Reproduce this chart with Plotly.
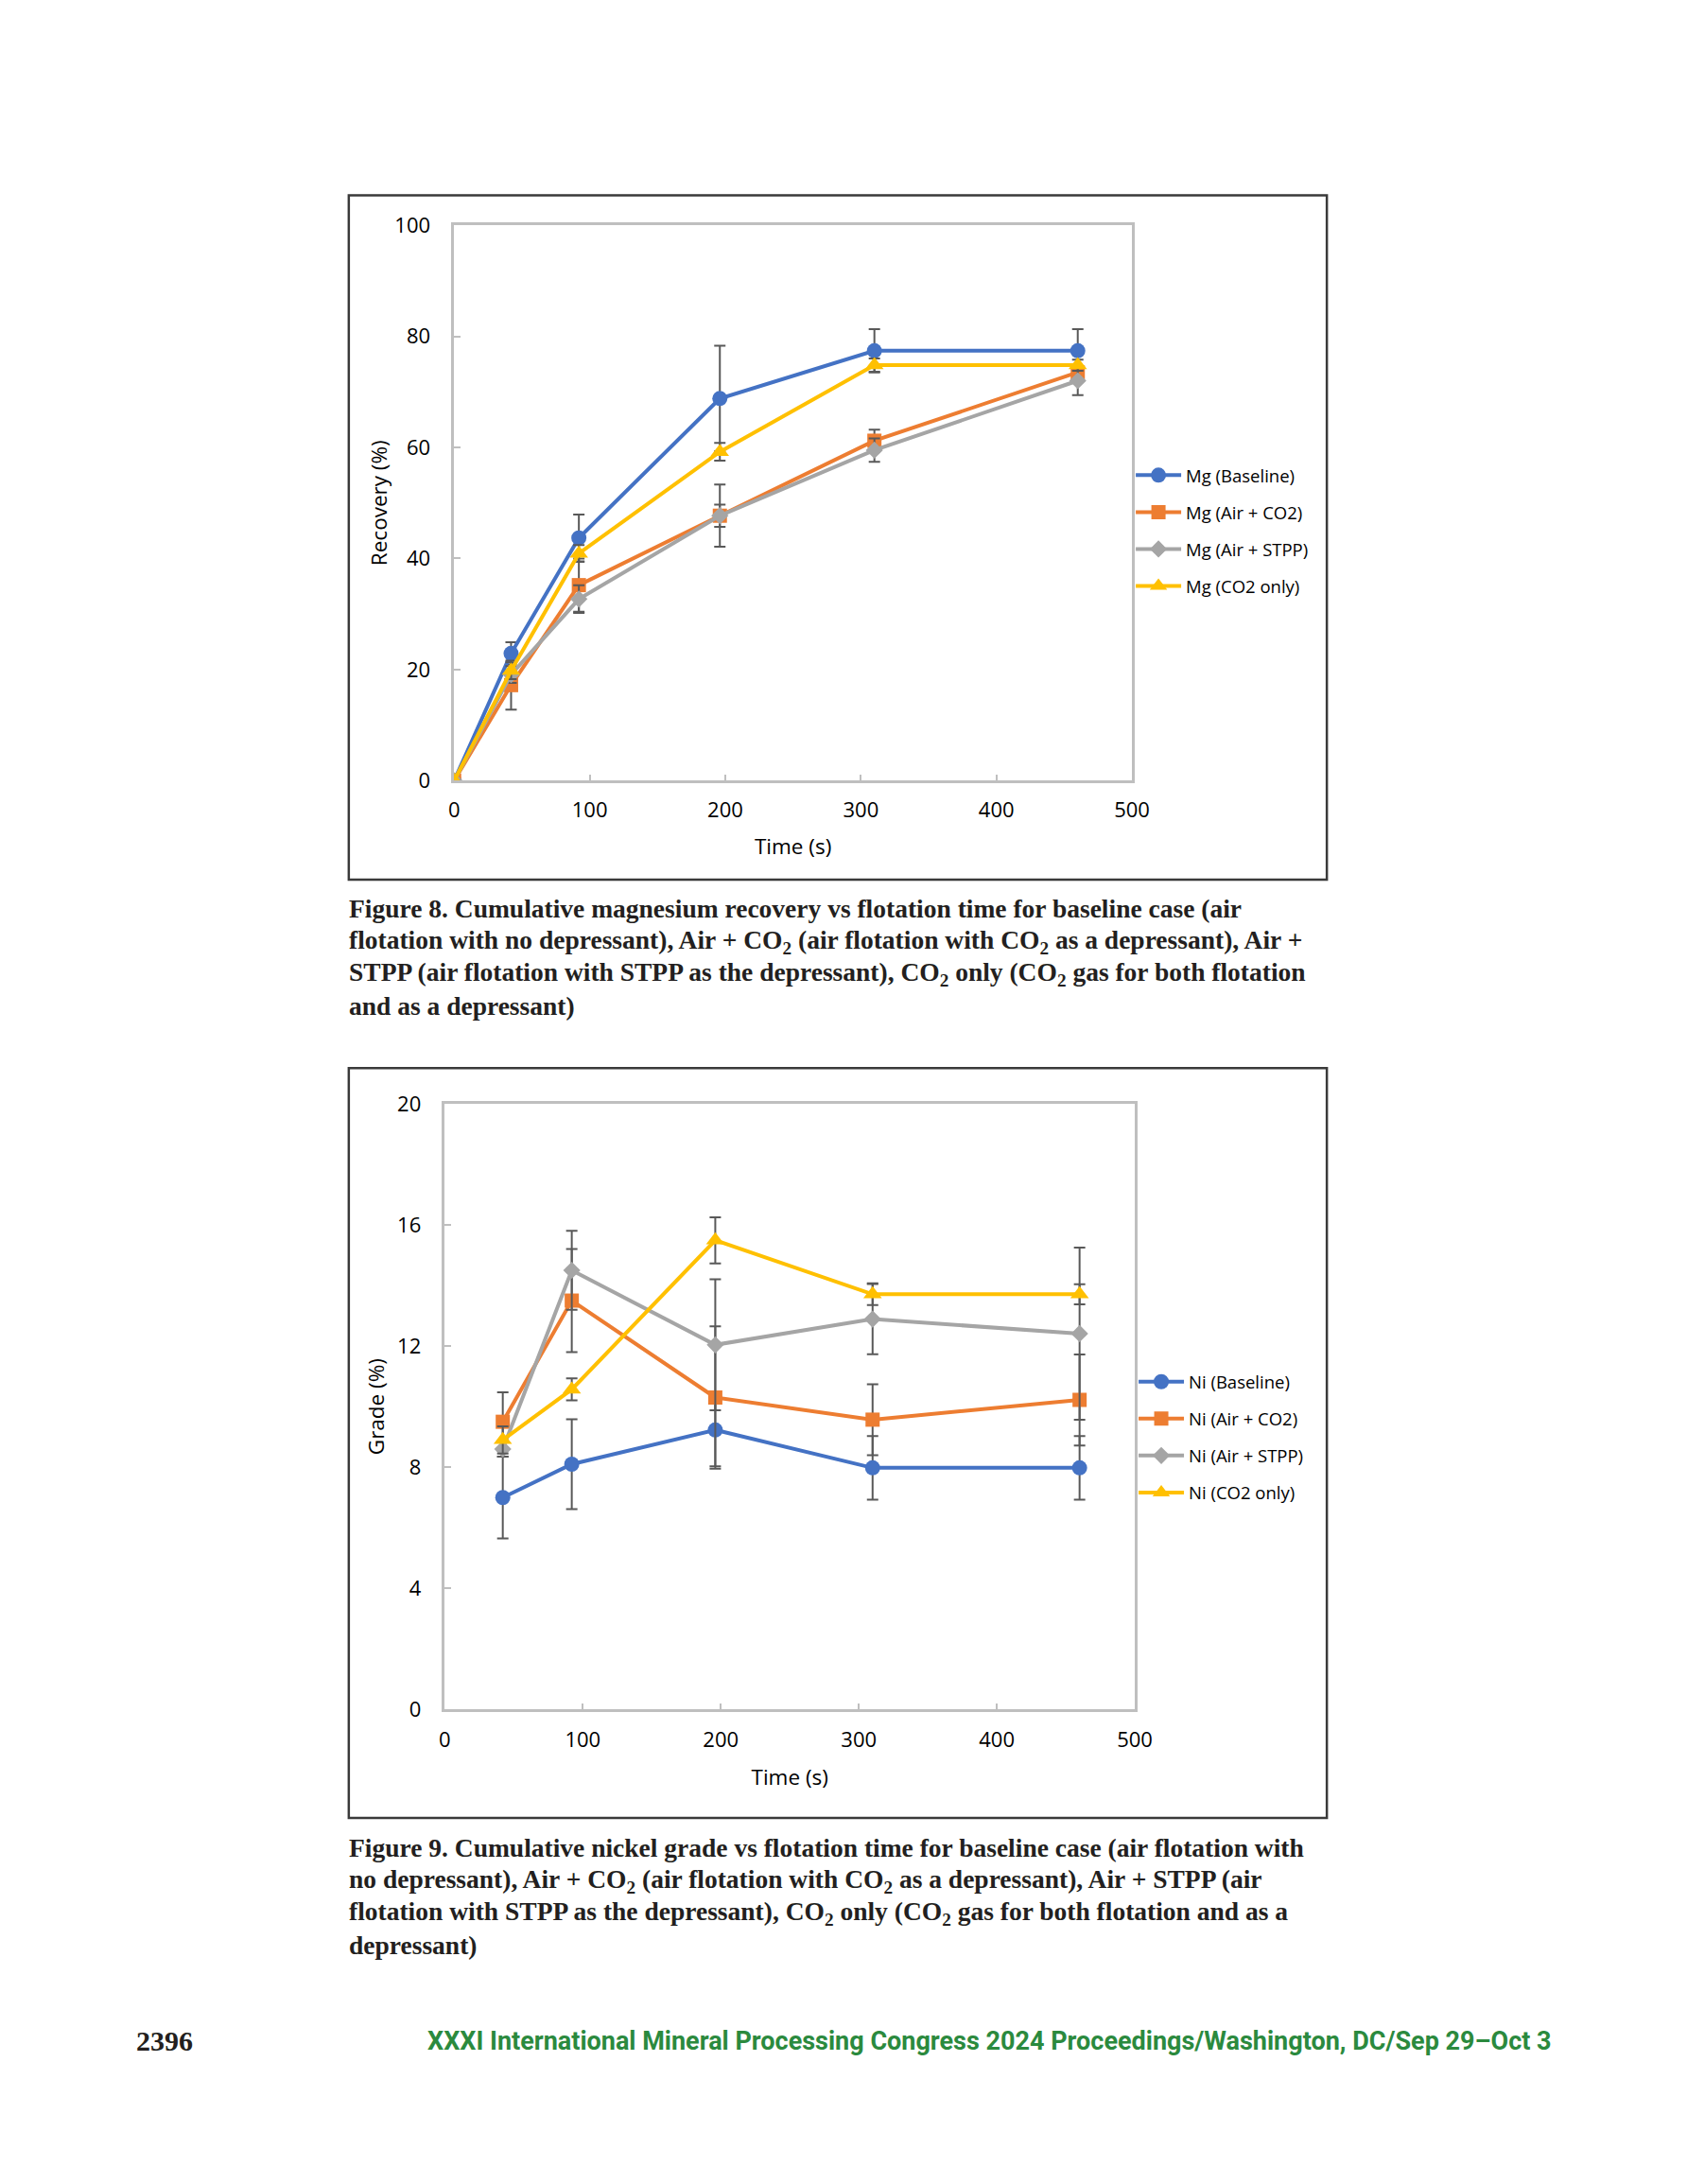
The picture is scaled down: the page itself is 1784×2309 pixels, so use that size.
import plotly.graph_objects as go

W, H = 1784, 2309

# ---------------- data ----------------
mg_time = [0, 42, 92, 196, 310, 460]
mg_baseline = [0, 22.9, 43.7, 68.8, 77.4, 77.4]
mg_baseline_err = [0, 2.0, 4.2, 9.5, 3.9, 3.9]
mg_air_co2 = [0, 17.2, 35.2, 47.7, 61.2, 73.5]
mg_air_co2_err = [0, 4.4, 4.8, 5.6, 2.0, 1.0]
mg_air_stpp = [0, 19.1, 32.7, 47.7, 59.5, 72.0]
mg_air_stpp_err = [0, 1.5, 2.5, 2.0, 2.1, 2.6]
mg_co2_only = [0, 19.8, 40.9, 59.2, 74.8, 74.8]
mg_co2_only_err = [0, 1.5, 1.5, 1.6, 1.2, 1.0]

ni_time = [42, 92, 196, 310, 460]
ni_baseline = [7.0, 8.1, 9.23, 7.98, 7.98]
ni_baseline_err = [1.35, 1.48, 1.2, 1.05, 1.05]
ni_air_co2 = [9.5, 13.5, 10.3, 9.57, 10.22]
ni_air_co2_err = [0.97, 1.7, 2.35, 1.17, 1.5]
ni_air_stpp = [8.6, 14.5, 12.04, 12.89, 12.41]
ni_air_stpp_err = [0.25, 1.3, 2.16, 1.16, 2.84]
ni_co2_only = [8.9, 10.57, 15.49, 13.71, 13.71]
ni_co2_only_err = [0.45, 0.36, 0.76, 0.36, 0.33]

mg_names = ["Mg (Baseline)", "Mg (Air + CO2)", "Mg (Air + STPP)", "Mg (CO2 only)"]
ni_names = ["Ni (Baseline)", "Ni (Air + CO2)", "Ni (Air + STPP)", "Ni (CO2 only)"]
colors = ["#4472C4", "#ED7D31", "#A5A5A5", "#FFC000"]
symbols = ["circle", "square", "diamond", "triangle-up"]
msizes = [16, 15, 14, 17]

x_ticks = [0, 100, 200, 300, 400, 500]
mg_y_ticks = [0, 20, 40, 60, 80, 100]
ni_y_ticks = [0, 4, 8, 12, 16, 20]

caption8 = [
    "Figure 8. Cumulative magnesium recovery vs flotation time for baseline case (air",
    "flotation with no depressant), Air + CO<sub>2</sub> (air flotation with CO<sub>2</sub> as a depressant), Air +",
    "STPP (air flotation with STPP as the depressant), CO<sub>2</sub> only (CO<sub>2</sub> gas for both flotation",
    "and as a depressant)",
]
caption9 = [
    "Figure 9. Cumulative nickel grade vs flotation time for baseline case (air flotation with",
    "no depressant), Air + CO<sub>2</sub> (air flotation with CO<sub>2</sub> as a depressant), Air + STPP (air",
    "flotation with STPP as the depressant), CO<sub>2</sub> only (CO<sub>2</sub> gas for both flotation and as a",
    "depressant)",
]
page_number = "2396"
footer = "XXXI International Mineral Processing Congress 2024 Proceedings/Washington, DC/Sep 29\u2013Oct 3"

# ---------------- helpers ----------------
def px_x(p):
    return p / W

def px_y(p):
    return 1 - p / H

fig = go.Figure()

mg_series = [(mg_baseline, mg_baseline_err), (mg_air_co2, mg_air_co2_err),
             (mg_air_stpp, mg_air_stpp_err), (mg_co2_only, mg_co2_only_err)]
ni_series = [(ni_baseline, ni_baseline_err), (ni_air_co2, ni_air_co2_err),
             (ni_air_stpp, ni_air_stpp_err), (ni_co2_only, ni_co2_only_err)]

for i, (vals, err) in enumerate(mg_series):
    fig.add_trace(go.Scatter(
        x=mg_time, y=vals, name=mg_names[i], mode="lines+markers",
        line=dict(color=colors[i], width=4),
        marker=dict(symbol=symbols[i], size=msizes[i], color=colors[i]),
        error_y=dict(type="data", array=err, symmetric=True, color="#595959",
                     thickness=2, width=6),
        xaxis="x", yaxis="y", legend="legend", legendgroup="mg%d" % i,
    ))

for i, (vals, err) in enumerate(ni_series):
    fig.add_trace(go.Scatter(
        x=ni_time, y=vals, name=ni_names[i], mode="lines+markers",
        line=dict(color=colors[i], width=4),
        marker=dict(symbol=symbols[i], size=msizes[i], color=colors[i]),
        error_y=dict(type="data", array=err, symmetric=True, color="#595959",
                     thickness=2, width=6),
        xaxis="x2", yaxis="y2", legend="legend2", legendgroup="ni%d" % i,
    ))

axis_font = dict(family="Open Sans", size=22, color="#000000")
title_font = dict(family="Open Sans", size=22.5, color="#000000")

common_axis = dict(
    showgrid=False, zeroline=False, showline=True, mirror=True,
    linecolor="#BFBFBF", linewidth=2.5, ticks="inside", ticklen=7,
    tickcolor="#BFBFBF", tickwidth=2, tickfont=axis_font,
)

legend_common = dict(
    xanchor="left", yanchor="top", font=dict(family="Open Sans", size=18.5, color="#000000"),
    itemwidth=48, traceorder="grouped", tracegroupgap=12, bgcolor="rgba(0,0,0,0)",
)

fig.update_layout(
    width=W, height=H, margin=dict(l=0, r=0, t=0, b=0),
    paper_bgcolor="white", plot_bgcolor="white", showlegend=True,
    xaxis=dict(domain=[px_x(481), px_x(1208)], range=[0, 500], tickvals=x_ticks,
               anchor="y", title=dict(text="Time (s)", font=title_font, standoff=18),
               ticklabelstandoff=10, **common_axis),
    yaxis=dict(domain=[px_y(820), px_y(225)], range=[0, 100], tickvals=mg_y_ticks,
               anchor="x", title=dict(text="Recovery (%)", font=title_font, standoff=2),
               ticklabelstandoff=18, **common_axis),
    xaxis2=dict(domain=[px_x(471), px_x(1211)], range=[0, 500], tickvals=x_ticks,
                anchor="y2", title=dict(text="Time (s)", font=title_font, standoff=20),
                ticklabelstandoff=10, **common_axis),
    yaxis2=dict(domain=[px_y(1815), px_y(1166)], range=[0, 20], tickvals=ni_y_ticks,
                anchor="x2", title=dict(text="Grade (%)", font=title_font, standoff=8),
                ticklabelstandoff=18, **common_axis),
    legend=dict(x=px_x(1207), y=px_y(474), **legend_common),
    legend2=dict(x=px_x(1210), y=px_y(1445), **legend_common),
)

# outer frames
for (x0, y0, x1, y1) in [(368, 193, 1417, 926), (368, 1128, 1417, 1931)]:
    fig.add_shape(type="rect", xref="paper", yref="paper",
                  x0=px_x(x0), x1=px_x(x1), y0=px_y(y1), y1=px_y(y0),
                  line=dict(color="#3a3a3a", width=2.5), fillcolor="rgba(0,0,0,0)")

cap_font = dict(family="Liberation Serif", size=27.5, color="#231f20")
for lines, ys in [(caption8, [957, 992, 1027, 1061]), (caption9, [1963, 1998, 2033, 2067])]:
    for txt, yy in zip(lines, ys):
        fig.add_annotation(text="<b>%s</b>" % txt, xref="paper", yref="paper",
                           x=px_x(366), y=px_y(yy), xanchor="left", yanchor="middle",
                           showarrow=False, font=cap_font, align="left")

fig.add_annotation(text="<b>%s</b>" % page_number, xref="paper", yref="paper",
                   x=px_x(138), y=px_y(2170), xanchor="left", yanchor="middle",
                   showarrow=False, font=dict(family="Liberation Serif", size=30, color="#231f20"))
fig.add_annotation(text="<b>%s</b>" % footer, xref="paper", yref="paper",
                   x=px_x(450), y=px_y(2170), xanchor="left", yanchor="middle",
                   showarrow=False, font=dict(family="Roboto", size=27, color="#2b8a3e"))

fig.write_html(
    "out.html",
    config={"displayModeBar": False},
    post_script=("document.body.style.margin='0';"
                 "document.body.style.overflow='hidden';"
                 "document.documentElement.style.overflow='hidden';"),
)
